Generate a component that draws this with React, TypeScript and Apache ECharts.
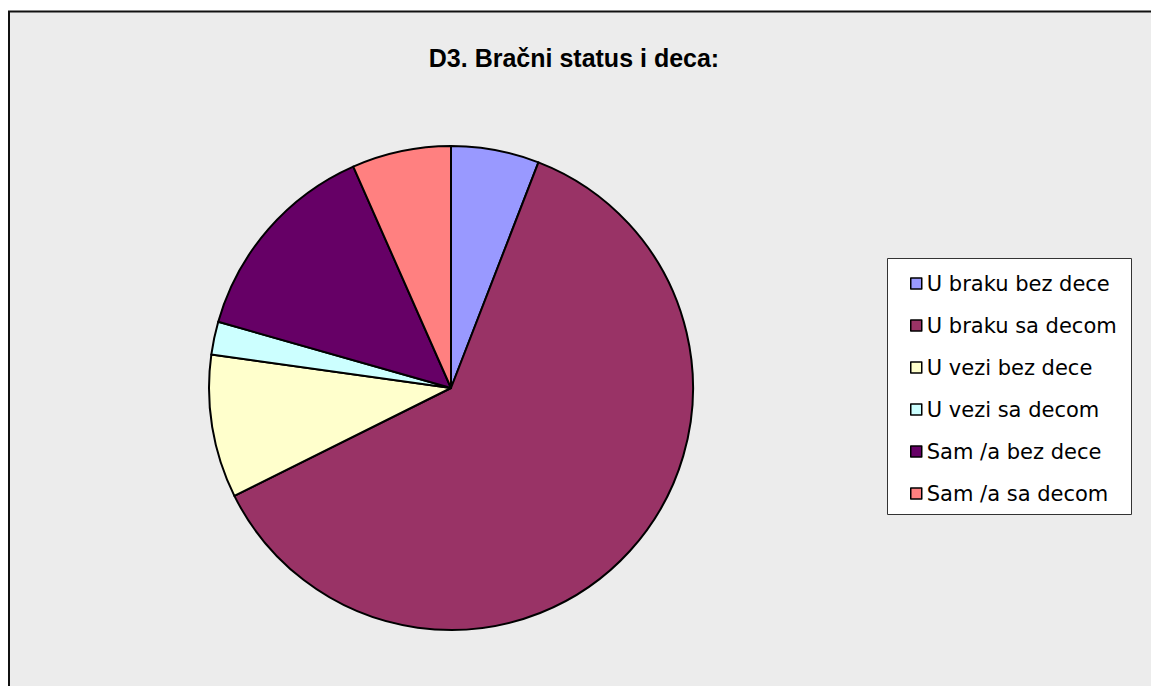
import React, { useEffect, useRef } from "react";
import * as echarts from "echarts";

const categories = [
  "U braku bez dece",
  "U braku sa decom",
  "U vezi bez dece",
  "U vezi sa decom",
  "Sam /a bez dece",
  "Sam /a sa decom",
];
const values = [8, 84, 13, 3, 19, 9];
const colors = ["#9999FF", "#993366", "#FFFFCC", "#CCFFFF", "#660066", "#FF8080"];
const titleText = "D3. Bračni status i deca:";

export default function App() {
  const ref = useRef<HTMLDivElement>(null);
  useEffect(() => {
    document.documentElement.style.overflow = "hidden";
    document.body.style.margin = "0";
    document.body.style.overflow = "hidden";
    document.body.style.background = "#ECECEC";
    const chart = echarts.init(ref.current!, null, { renderer: "svg" });
    chart.setOption({
      animation: false,
      backgroundColor: "#ECECEC",
      color: colors,
      graphic: [
        {
          type: "rect",
          z: -10,
          shape: { x: 0, y: 0, width: 1151, height: 11 },
          style: { fill: "#ffffff" },
          silent: true,
        },
        {
          type: "rect",
          z: -10,
          shape: { x: 0, y: 0, width: 8, height: 686 },
          style: { fill: "#ffffff" },
          silent: true,
        },
        {
          type: "line",
          z: -9,
          shape: { x1: 8, y1: 11.5, x2: 1151, y2: 11.5 },
          style: { stroke: "#111111", lineWidth: 2 },
          silent: true,
        },
        {
          type: "line",
          z: -9,
          shape: { x1: 9, y1: 11, x2: 9, y2: 686 },
          style: { stroke: "#111111", lineWidth: 2 },
          silent: true,
        },
        {
          type: "rect",
          z: -5,
          shape: { x: 887.5, y: 258.5, width: 244, height: 256 },
          style: { fill: "#ffffff", stroke: "#333333", lineWidth: 1 },
          silent: true,
        },
      ],
      title: {
        text: titleText,
        left: 569,
        textAlign: "center",
        top: 40,
        textStyle: {
          fontFamily: "Liberation Sans, Arial, sans-serif",
          fontSize: 25,
          fontWeight: "bold",
          color: "#000",
        },
      },
      legend: {
        orient: "vertical",
        left: 910,
        top: 272,
        itemWidth: 11,
        itemHeight: 11,
        itemGap: 19,
        icon: "rect",
        padding: 0,
        itemStyle: { borderColor: "#000", borderWidth: 1.5 },
        textStyle: {
          fontFamily: "DejaVu Sans, sans-serif",
          fontSize: 21,
          lineHeight: 23,
          color: "#000",
        },
        data: categories,
      },
      series: [
        {
          type: "pie",
          center: [451, 388],
          radius: 242,
          startAngle: 90,
          clockwise: true,
          label: { show: false },
          labelLine: { show: false },
          emphasis: { disabled: true },
          itemStyle: { borderColor: "#000", borderWidth: 2 },
          data: categories.map((name, i) => ({ name, value: values[i] })),
        },
      ],
    });
    return () => chart.dispose();
  }, []);
  return (
    <div
      ref={ref}
      style={{ position: "fixed", left: 0, top: 0, width: 1151, height: 686 }}
    />
  );
}
